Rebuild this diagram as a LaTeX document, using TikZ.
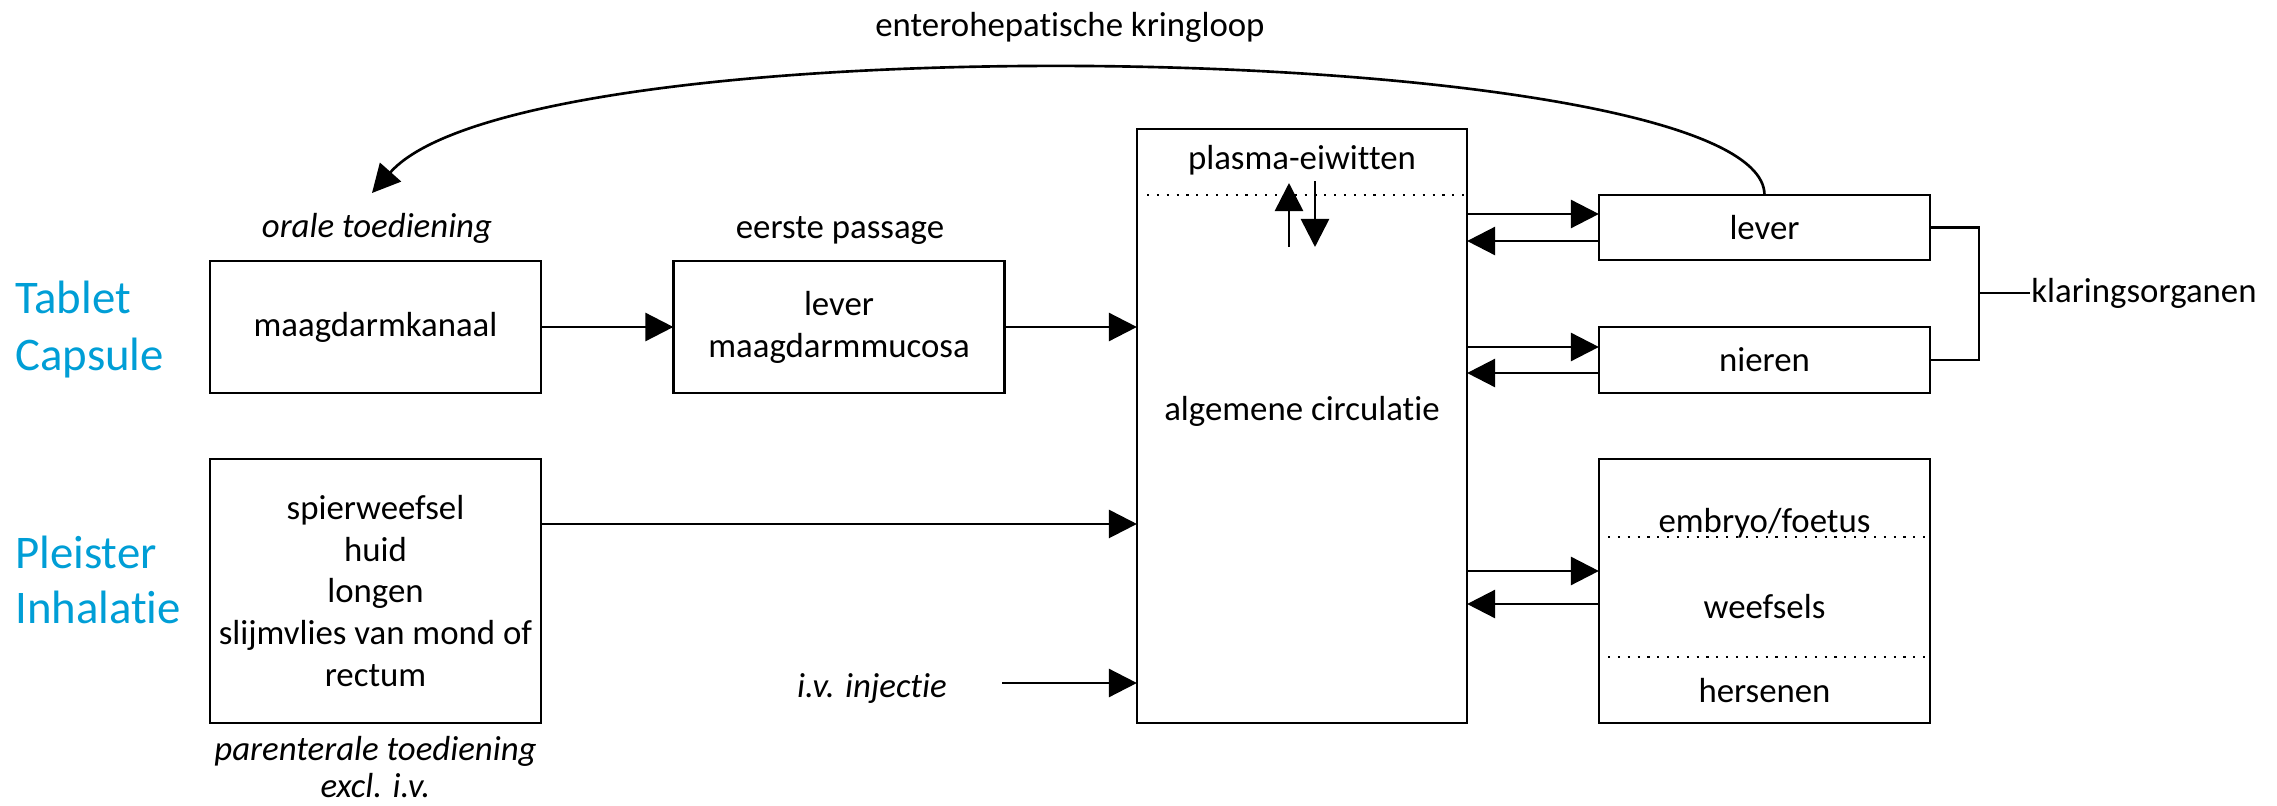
\documentclass[tikz,border=0pt]{standalone}
\usepackage{fontspec}
\setmainfont{Carlito}[Ligatures=NoCommon]
\usepackage{xcolor}
\usepackage{tikz}
\usetikzlibrary{arrows.meta,calc,positioning}
\definecolor{blauw}{RGB}{0,158,214}

\begin{document}
\begin{tikzpicture}[x=0.01cm,y=0.01cm,line width=0.75pt,line join=miter,
  >={Triangle[length=0.28cm,width=0.28cm]},
  blok/.style={draw,rectangle,inner sep=0pt,outer sep=0pt,minimum width=3.31cm},
  tekst/.style={inner sep=0pt,font=\fontsize{9.9}{11.9}\selectfont,align=center},
  schuin/.style={tekst,font=\fontsize{9.9}{11.9}\selectfont\itshape},
  vorm/.style={inner sep=0pt,anchor=base west,text=blauw,font=\fontsize{13.3}{16.2}\selectfont},
  stippel/.style={line width=0.6pt,dash pattern=on 0.6pt off 2.2pt}]
\useasboundingbox (0,0) rectangle (2277,805);
% toedieningsvormen
\foreach \vorm/\y in {Tablet/492,Capsule/435,Pleister/237,Inhalatie/182}
  \node[vorm] (\vorm) at (14,\y) {\vorm};
% blokken
\node[blok,tekst,minimum height=1.32cm] (maag) at (375.5,478) {maagdarmkanaal};
\node[blok,tekst,minimum height=1.32cm] (mucosa) at (839,478) {lever\\maagdarmmucosa};
\node[blok,tekst,minimum height=2.64cm] (spier) at (375.5,214)
  {spierweefsel\\huid\\longen\\slijmvlies van mond of\\rectum};
\node[blok,minimum width=3.30cm,minimum height=5.94cm] (circ) at (1302,379) {};
\node[blok,tekst,minimum height=0.65cm] (lever) at (1764.5,577.5) {lever};
\node[blok,tekst,minimum height=0.66cm] (nieren) at (1764.5,445) {nieren};
\node[blok,minimum height=2.64cm] (weefsel) at (1764.5,214) {};
% teksten
\node[tekst,anchor=base] (kringloop) at (1070,769) {enterohepatische kringloop};
\node[schuin,anchor=base] (oraal) at (377,568) {orale toediening};
\node[tekst,anchor=base] (passage) at (840,567) {eerste passage};
\node[schuin,anchor=base] (parent1) at (375.5,45) {parenterale toediening};
\node[schuin,anchor=base] (parent2) at (375.5,8) {excl. i.v.};
\node[schuin,anchor=base] (injectie) at (872,108) {i.v. injectie};
\node[tekst,anchor=base] (plasma) at (1302,636) {plasma-eiwitten};
\node[tekst,anchor=base] (algemeen) at (1302,385) {algemene circulatie};
\node[tekst,anchor=base] (embryo) at (1764.5,273) {embryo/foetus};
\node[tekst,anchor=base] (weefsels) at (1764.5,187) {weefsels};
\node[tekst,anchor=base] (hersenen) at (1764.5,103) {hersenen};
\node[tekst,anchor=west] (klaring) at (2030,512) {klaringsorganen};
\draw[stippel] (1147,610) -- (1467,610);
\draw[stippel] (1608,268) -- (1930,268);
\draw[stippel] (1608,148) -- (1930,148);
% pijlen
\draw[->] (maag) -- (mucosa);
\draw[->] (mucosa.east) -- (mucosa.east -| circ.west);
\coordinate (spieruit) at ([yshift=0.67cm]spier.east);
\draw[->] (spieruit) -- (spieruit -| circ.west);
\coordinate (ivstart) at (1002,122);
\draw[->] (ivstart) -- (ivstart -| circ.west);
\foreach \org/\heen/\terug in {lever/0.135cm/-0.135cm,nieren/0.13cm/-0.13cm,weefsel/0.2cm/-0.13cm}{
  \coordinate (heen) at ([yshift=\heen]\org.west);
  \coordinate (terug) at ([yshift=\terug]\org.west);
  \draw[->] (circ.east |- heen) -- (heen);
  \draw[->] (terug) -- (circ.east |- terug);
}
\coordinate (eiwitA) at (1289,558); \coordinate (eiwitB) at (1289,622);
\coordinate (eiwitC) at (1315,624); \coordinate (eiwitD) at (1315,558);
\draw[->] (eiwitA) -- (eiwitB);
\draw[->] (eiwitC) -- (eiwitD);
% klaringsorganen
\coordinate (klem) at ([xshift=0.49cm]lever.east);
\draw (lever.east) -- (klem) |- (nieren.east);
\draw (klaring.west) -- (klaring.west -| klem);
% enterohepatische kringloop
\coordinate (oraalpijl) at (372,612);
\draw[->] (lever.north) .. controls +(0,155) and +(158,178) .. (oraalpijl);
\end{tikzpicture}
\end{document}
